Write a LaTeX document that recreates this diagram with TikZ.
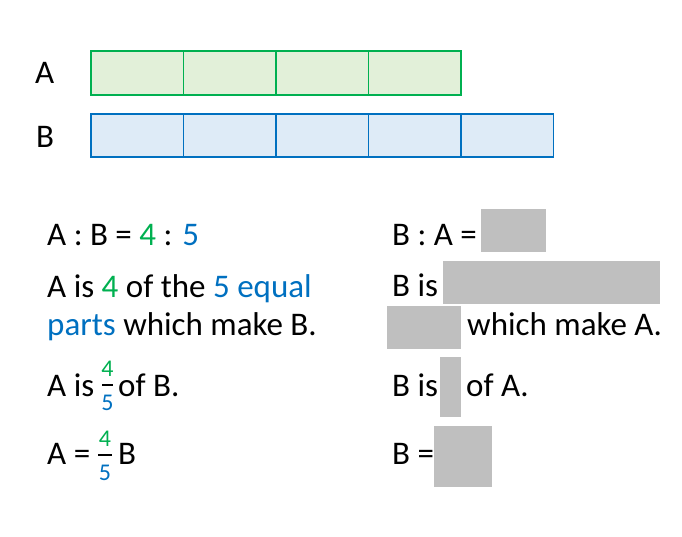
\documentclass[tikz,border=0pt]{standalone}
\usepackage{fontspec}
\setmainfont{Carlito}
\definecolor{agreen}{HTML}{00B050}
\definecolor{ablue}{HTML}{0070C0}
\definecolor{agfill}{HTML}{E2F0D9}
\definecolor{abfill}{HTML}{DEEBF7}
\definecolor{agray}{HTML}{BFBFBF}
\begin{document}
\begin{tikzpicture}[x=1pt,y=-1pt,
  txt/.style={anchor=base west,inner sep=0pt,font=\fontsize{33}{39}\selectfont},
  num/.style={anchor=base,inner sep=0pt,font=\fontsize{24}{28}\selectfont},
  acell/.style={draw=agreen,line width=1.8pt},
  bcell/.style={draw=ablue,line width=1.8pt},
  blank/.style={fill=agray,draw=none}]
\useasboundingbox (0,0) rectangle (682,536);
% bars
\fill[agfill] (91,51) rectangle (461,95);
\fill[abfill] (91,114) rectangle (553.5,157);
\foreach \i in {0,...,3} {
  \draw[acell] ({91+\i*92.5},51) rectangle ({91+(\i+1)*92.5},95);
}
\foreach \i in {0,...,4} {
  \draw[bcell] ({91+\i*92.5},114) rectangle ({91+(\i+1)*92.5},157);
}
\node[txt] (la) at (35,83) {A};
\node[txt] (lb) at (36,147) {B};
% left column
\node[txt] (l1) at (47,245) {A : B = {\color{agreen}4} : {\color{ablue}5}};
\node[txt] (l2) at (47,297) {A is {\color{agreen}4} of the {\color{ablue}5 equal}};
\node[txt] (l3) at (47,335) {{\color{ablue}parts} which make B.};
\node[txt] (l4a) at (47,396) {A is};
\node[num,text=agreen] (f1n) at (107.5,376) {4};
\draw[line width=2.6pt] (102,385) -- (113,385);
\node[num,text=ablue] (f1d) at (107.5,410) {5};
\node[txt] (l4b) at (118,396) {of B.};
\node[txt] (l5a) at (47,464) {A =};
\node[num,text=agreen] (f2n) at (105,446) {4};
\draw[line width=2.6pt] (98,455) -- (112,455);
\node[num,text=ablue] (f2d) at (105,480) {5};
\node[txt] (l5b) at (118,464) {B};
% right column
\node[txt] (r1) at (392,245) {B : A =};
\fill[agray] (481,209) rectangle (546,252);
\node[txt] (r2) at (392,296) {B is};
\fill[agray] (443,261) rectangle (660,304);
\fill[agray] (387,306) rectangle (461,349);
\node[txt] (r3) at (467,335) {which make A.};
\node[txt] (r4a) at (392,396) {B is};
\fill[agray] (440,357) rectangle (461,417);
\node[txt] (r4b) at (466,396) {of A.};
\node[txt] (r5) at (392,464) {B =};
\fill[agray] (434,426) rectangle (492,487);
\end{tikzpicture}
\end{document}
